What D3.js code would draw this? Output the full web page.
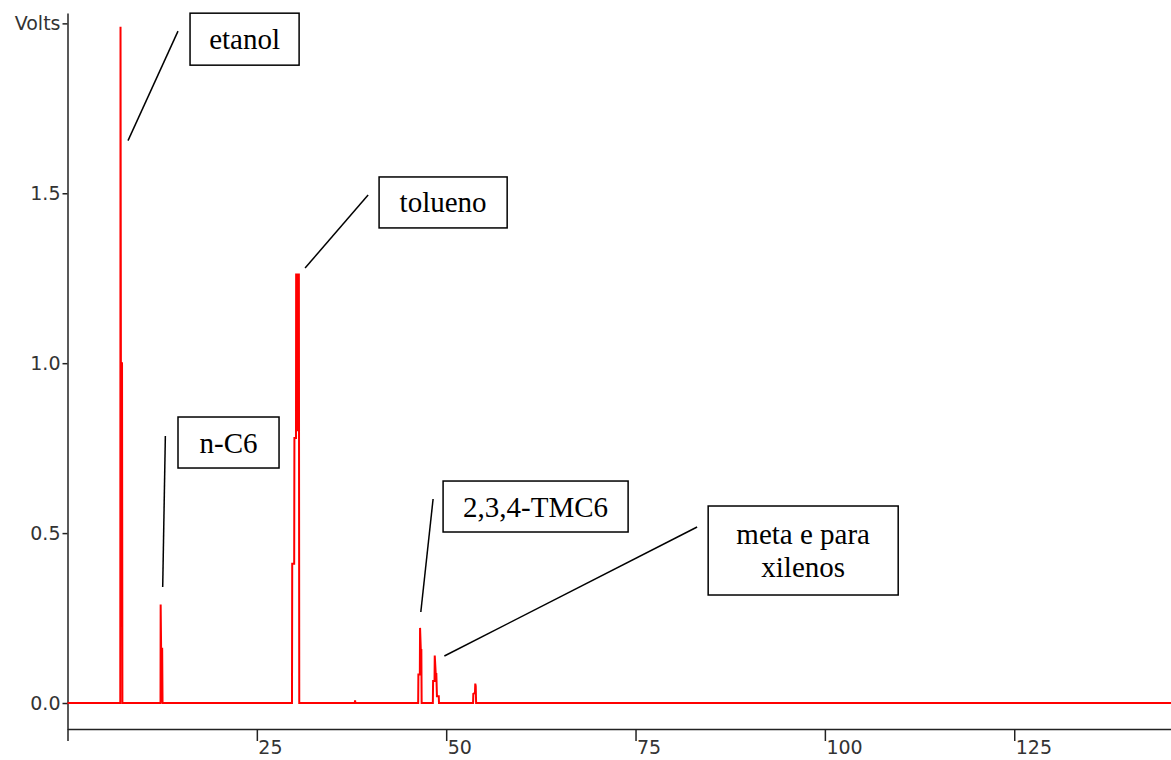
<!DOCTYPE html>
<html>
<head>
<meta charset="utf-8">
<script src="https://cdn.jsdelivr.net/npm/d3@7"></script>
<style>
  html, body { margin: 0; padding: 0; background: #fff; }
  svg { display: block; }
</style>
</head>
<body>
<div id="chart"></div>
<script>
// Chromatogram trace: retention time (min) and detector signal (Volts)
const times = [
  0, 6.97, 7.0, 7.05, 7.2, 7.25,
  12.28, 12.3, 12.36, 12.5, 12.55,
  29.64, 29.67, 29.93, 29.96, 30.17, 30.19, 30.29, 30.38, 30.47, 30.55, 30.6,
  37.93, 37.97, 38.01,
  46.3, 46.33, 46.52, 46.55, 46.65, 46.72, 46.76,
  48.24, 48.27, 48.46, 48.49, 48.62, 48.7, 48.78, 49.02, 49.05,
  53.55, 53.58, 53.8, 53.84, 53.9, 53.95,
  145.7
];
const volts = [
  0, 0, 1.99, 1.0, 1.0, 0,
  0, 0.29, 0.16, 0.16, 0,
  0, 0.41, 0.41, 0.78, 0.78, 1.264, 0.8, 1.264, 0.8, 1.264, 0,
  0, 0.008, 0,
  0, 0.084, 0.084, 0.221, 0.156, 0.156, 0,
  0, 0.065, 0.065, 0.14, 0.085, 0.085, 0.02, 0.02, 0,
  0, 0.027, 0.03, 0.057, 0.05, 0,
  0
];

// Axis ticks
const xTicks = [0, 25, 50, 75, 100, 125];
const yTicks = [0, 0.5, 1.0, 1.5, 2.0];
const yUnit = 'Volts';

// Peak names
const peakLabels = [['etanol'], ['tolueno'], ['n-C6'], ['2,3,4-TMC6'], ['meta e para', 'xilenos']];

// Callout layout (data units): box [t0, t1, v0, v1], pointer [tA, vA, tB, vB]
const calloutBoxes = [
  [16.18, 30.58, 2.030, 1.877],
  [41.14, 58.05, 1.548, 1.398],
  [14.59, 27.93, 0.8416, 0.6915],
  [49.59, 74.02, 0.6532, 0.5032],
  [84.59, 109.68, 0.5797, 0.3178]
];
const calloutPointers = [
  [7.99, 1.655, 14.59, 1.977],
  [31.37, 1.280, 39.69, 1.495],
  [12.92, 0.7856, 12.57, 0.3413],
  [48.27, 0.6003, 46.65, 0.2678],
  [83.13, 0.5179, 49.76, 0.1383]
];

const width = 1171, height = 760;

const svg = d3.select('#chart').append('svg')
  .attr('width', width)
  .attr('height', height);

const xScale = d3.scaleLinear().domain([0, 145.7]).range([67.5, 1171]);
const yScale = d3.scaleLinear().domain([-0.0765, 2.0305]).range([729, 13]);

const axisFont = '"DejaVu Sans", Verdana, sans-serif';
const labelFont = '"Liberation Serif", "Times New Roman", serif';

// Axes
const xAxis = d3.axisBottom(xScale)
  .tickValues(xTicks)
  .tickSize(12)
  .tickSizeOuter(0)
  .tickPadding(0)
  .tickFormat(d => d === 0 ? '' : d);

const yAxis = d3.axisLeft(yScale)
  .tickValues(yTicks)
  .tickSize(5)
  .tickSizeOuter(0)
  .tickPadding(2)
  .tickFormat(d => d === 2 ? yUnit : d3.format('.1f')(d));

const xAxisGroup = svg.append('g')
  .attr('transform', `translate(0, ${yScale.range()[0]})`)
  .call(xAxis);
xAxisGroup.selectAll('text')
  .attr('text-anchor', 'start')
  .attr('x', 1);

const yAxisGroup = svg.append('g')
  .attr('transform', `translate(${xScale.range()[0]}, 0)`)
  .call(yAxis);

svg.selectAll('.domain, .tick line')
  .attr('stroke', '#222')
  .attr('stroke-width', 1.5);
svg.selectAll('.tick text')
  .attr('fill', '#333')
  .style('font-family', axisFont)
  .style('font-size', '19px');

// Trace
const trace = times.map((t, i) => ({ t, v: volts[i] }));
const lineGenerator = d3.line()
  .x(d => xScale(d.t))
  .y(d => yScale(d.v));

svg.append('path')
  .datum(trace)
  .attr('fill', 'none')
  .attr('stroke', '#ff0000')
  .attr('stroke-width', 2)
  .attr('stroke-linejoin', 'miter')
  .attr('d', lineGenerator);

// Callouts
const callouts = svg.append('g');
peakLabels.forEach((lines, i) => {
  const [t0, t1, v0, v1] = calloutBoxes[i];
  const [ta, va, tb, vb] = calloutPointers[i];
  const x0 = xScale(t0), x1 = xScale(t1);
  const y0 = yScale(v0), y1 = yScale(v1);

  callouts.append('line')
    .attr('x1', xScale(ta)).attr('y1', yScale(va))
    .attr('x2', xScale(tb)).attr('y2', yScale(vb))
    .attr('stroke', '#000')
    .attr('stroke-width', 1.5);

  callouts.append('rect')
    .attr('x', x0).attr('y', y0)
    .attr('width', x1 - x0).attr('height', y1 - y0)
    .attr('fill', '#fff')
    .attr('stroke', '#000')
    .attr('stroke-width', 1.5);

  const cy = (y0 + y1) / 2;
  const lineGap = 33;
  lines.forEach((txt, j) => {
    callouts.append('text')
      .attr('x', (x0 + x1) / 2)
      .attr('y', cy + 10 + (j - (lines.length - 1) / 2) * lineGap)
      .attr('text-anchor', 'middle')
      .style('font-family', labelFont)
      .style('font-size', '29px')
      .attr('fill', '#000')
      .text(txt);
  });
});
</script>
</body>
</html>
